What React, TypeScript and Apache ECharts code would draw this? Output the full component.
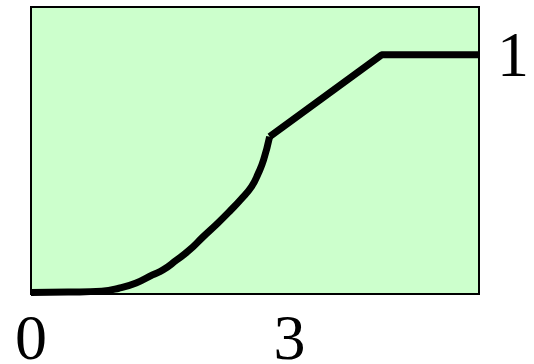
import React, { useEffect, useRef } from "react";
import * as echarts from "echarts";

const curveX = [0, 0.43, 0.82, 1.02, 1.22, 1.41, 1.53, 1.69, 1.84, 2.0, 2.17, 2.32, 2.43, 2.56, 2.64, 2.7, 2.77];
const curveY = [0.006, 0.008, 0.012, 0.024, 0.046, 0.08, 0.1, 0.142, 0.184, 0.24, 0.297, 0.351, 0.393, 0.449, 0.506, 0.561, 0.658];
const lineX = [2.77, 4.07, 5.2];
const lineY = [0.658, 1.0, 1.0];
const xTicks = [0, 3];
const yTicks = [1];

export default function App() {
  const ref = useRef<HTMLDivElement>(null);
  useEffect(() => {
    if (!ref.current) return;
    const chart = echarts.init(ref.current, undefined, { renderer: "svg" });
    const font = {
      fontFamily: "Liberation Serif",
      fontSize: 64,
      color: "#000",
    };
    chart.setOption({
      animation: false,
      grid: {
        left: 31,
        right: 55,
        top: 7,
        bottom: 70,
        outerBoundsMode: "none",
        show: true,
        backgroundColor: "#ccffcc",
        borderColor: "#000",
        borderWidth: 2,
      },
      xAxis: {
        type: "value",
        min: 0,
        max: 5.2,
        axisLine: { show: false },
        axisTick: { show: false },
        splitLine: { show: false },
        axisLabel: { ...font, customValues: xTicks, margin: 11 },
      },
      yAxis: {
        type: "value",
        position: "right",
        min: 0,
        max: 1.2,
        axisLine: { show: false },
        axisTick: { show: false },
        splitLine: { show: false },
        axisLabel: { ...font, customValues: yTicks, margin: 18 },
      },
      series: [
        {
          type: "line",
          data: curveX.map((x, i) => [x, curveY[i]]),
          smooth: 0.5,
          showSymbol: false,
          lineStyle: { color: "#000", width: 7 },
        },
        {
          type: "line",
          data: lineX.map((x, i) => [x, lineY[i]]),
          showSymbol: false,
          lineStyle: { color: "#000", width: 7 },
        },
      ],
    });
    return () => chart.dispose();
  }, []);
  return (
    <div
      ref={ref}
      style={{ position: "fixed", left: 0, top: 0, width: 534, height: 364, background: "#fff" }}
    />
  );
}
